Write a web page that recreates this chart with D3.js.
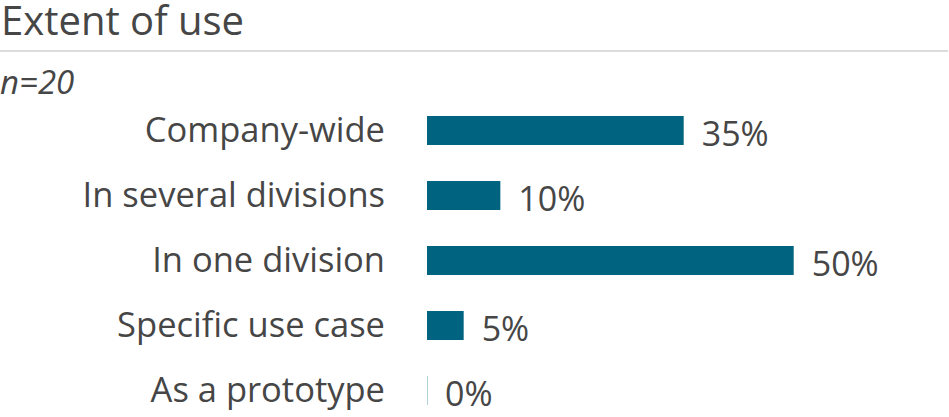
<!DOCTYPE html>
<html>
<head>
<meta charset="utf-8">
<script src="https://cdn.jsdelivr.net/npm/d3@7"></script>
<style>
  html, body { margin: 0; padding: 0; background: #fff; }
  svg { display: block; font-family: "Open Sans", sans-serif; }
</style>
</head>
<body>
<svg id="chart" width="949" height="417"></svg>
<script>
const title = "Extent of use";
const subtitle = "n=20";
const categories = ["Company-wide", "In several divisions", "In one division", "Specific use case", "As a prototype"];
const values = [35, 10, 50, 5, 0];
const valueLabels = ["35%", "10%", "50%", "5%", "0%"];

const svg = d3.select("#chart");

svg.append("text")
  .attr("x", 1).attr("y", 35)
  .attr("font-size", 40).attr("fill", "#464646")
  .text(title);

svg.append("line")
  .attr("x1", 0).attr("x2", 948)
  .attr("y1", 51).attr("y2", 51)
  .attr("stroke", "#dcdcdc").attr("stroke-width", 2);

svg.append("text")
  .attr("x", 0).attr("y", 94)
  .attr("font-size", 33).attr("font-style", "italic").attr("fill", "#464646")
  .text(subtitle);

const x = d3.scaleLinear().domain([0, 50]).range([427, 793.7]);
const y = d3.scaleBand().domain(categories).range([98, 423])
  .paddingInner(0.554).paddingOuter(0.277);

const data = categories.map((c, i) => ({ c, v: values[i], l: valueLabels[i] }));

svg.append("g").selectAll("rect").data(data).join("rect")
  .attr("x", x(0))
  .attr("y", d => y(d.c))
  .attr("width", d => Math.max(x(d.v) - x(0), 1))
  .attr("height", y.bandwidth())
  .attr("fill", "#00637f")
  .attr("fill-opacity", d => d.v === 0 ? 0.3 : 1);

svg.append("g").selectAll("text").data(data).join("text")
  .attr("x", 385)
  .attr("y", d => y(d.c) + y.bandwidth() / 2 - 0.5)
  .attr("dy", "0.35em")
  .attr("text-anchor", "end")
  .attr("font-size", 34.5)
  .attr("fill", "#464646")
  .text(d => d.c);

svg.append("g").selectAll("text").data(data).join("text")
  .attr("x", d => x(d.v) + 18)
  .attr("y", d => y(d.c) + y.bandwidth() / 2 + 4)
  .attr("dy", "0.35em")
  .attr("font-size", 34)
  .attr("fill", "#464646")
  .text(d => d.l);
</script>
</body>
</html>
